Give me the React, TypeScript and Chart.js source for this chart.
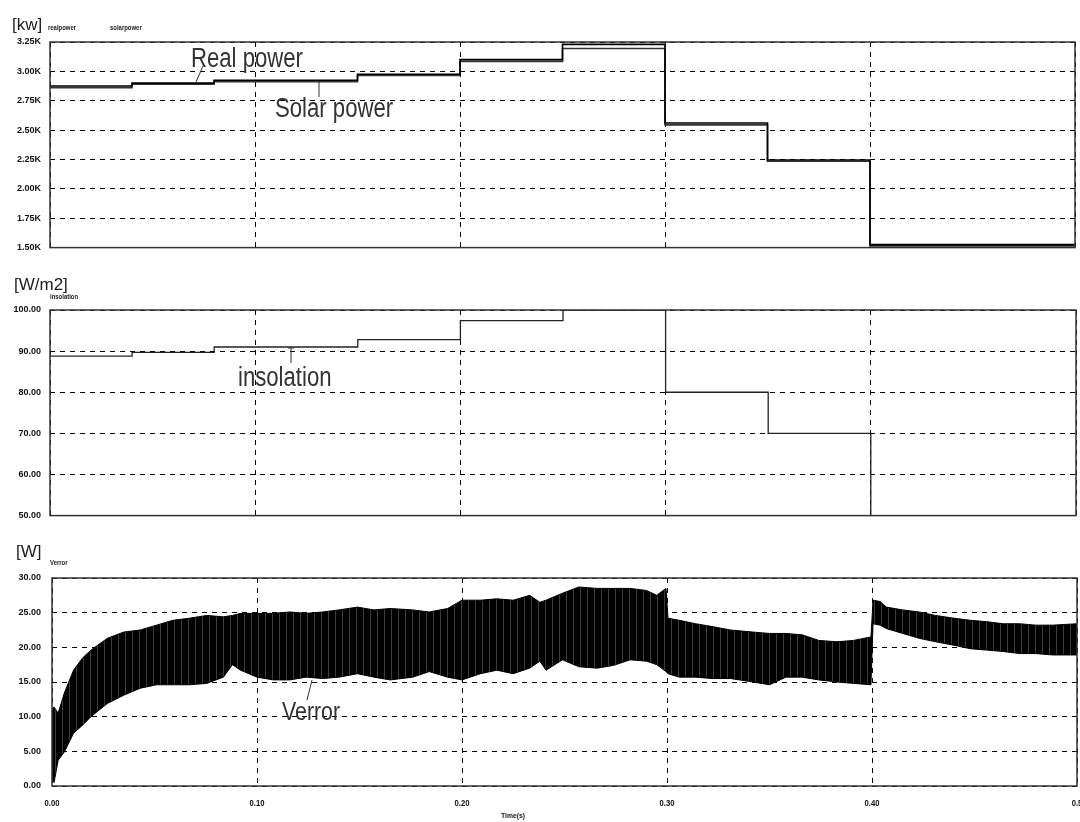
import React, { useEffect, useRef } from 'react';
import { Chart, registerables } from 'chart.js';

Chart.register(...registerables);

// ---------- data ----------
const stepTimes = [0, 0.04, 0.08, 0.15, 0.2, 0.25, 0.3, 0.35, 0.4, 0.5];
const realPowerK = [2.875, 2.9, 2.925, 2.975, 3.1, 3.23, 2.56, 2.245, 1.525];
const solarPowerK = [2.862, 2.89, 2.912, 2.965, 3.085, 3.195, 2.545, 2.235, 1.515];
const insolationVals = [88.8, 89.7, 91.0, 92.8, 97.4, 100, 80, 70, 50];

const verrTime = [
  0, 0.001, 0.003, 0.006, 0.0105, 0.015, 0.019, 0.027, 0.035, 0.043, 0.051, 0.059, 0.067,
  0.0755, 0.0836, 0.088, 0.092, 0.1, 0.108, 0.116, 0.124, 0.132, 0.14, 0.149, 0.157, 0.165,
  0.176, 0.184, 0.193, 0.2, 0.209, 0.217, 0.225, 0.233, 0.238, 0.241, 0.249, 0.257, 0.266,
  0.274, 0.282, 0.29, 0.295, 0.2995, 0.3005, 0.306, 0.314, 0.322, 0.331, 0.342, 0.35, 0.358,
  0.366, 0.374, 0.383, 0.391, 0.3995, 0.4005, 0.404, 0.407, 0.415, 0.423, 0.431, 0.44, 0.448,
  0.456, 0.464, 0.472, 0.48, 0.488, 0.5,
];
const verrUpper = [
  11.0, 11.4, 10.5, 13.4, 16.7, 18.5, 19.6, 21.3, 22.2, 22.5, 23.2, 23.9, 24.2,
  24.6, 24.4, 24.6, 24.9, 24.9, 24.9, 25.1, 24.9, 25.1, 25.4, 25.8, 25.4, 25.6,
  25.4, 25.1, 25.6, 26.8, 26.8, 27.0, 26.8, 27.5, 26.5, 26.8, 27.8, 28.7, 28.5,
  28.5, 28.5, 28.2, 27.5, 28.5, 24.2, 23.9, 23.4, 23.0, 22.5, 22.2, 22.0, 22.0,
  21.8, 21.0, 20.8, 21.0, 21.5, 26.8, 26.6, 25.8, 25.4, 25.1, 24.6, 24.2, 23.9,
  23.7, 23.4, 23.4, 23.2, 23.2, 23.4,
];
const verrLower = [
  1.0, 0.5, 3.7, 4.9, 7.6, 8.8, 10.0, 11.9, 13.1, 14.1, 14.6, 14.6, 14.6,
  14.8, 15.7, 17.5, 16.7, 15.7, 15.3, 15.3, 15.7, 15.5, 15.7, 16.2, 15.7, 15.3,
  15.7, 16.5, 15.7, 15.3, 16.2, 16.7, 16.2, 17.0, 18.0, 16.7, 18.2, 17.2, 17.0,
  17.4, 18.2, 18.0, 17.5, 16.5, 16.2, 15.7, 15.7, 15.5, 15.5, 15.0, 14.6, 15.7,
  15.7, 15.3, 15.0, 14.8, 14.6, 23.4, 23.2, 22.7, 22.0, 21.3, 20.8, 20.3, 19.8,
  19.6, 19.4, 19.1, 19.1, 18.9, 18.9,
];

const timeTicks = [0, 0.1, 0.2, 0.3, 0.4, 0.5];
const timeTickLabels = ['0.00', '0.10', '0.20', '0.30', '0.40', '0.5'];
const powerTickSuffix = 'K';

// ---------- helpers ----------
const W = 1080;
const SANS = '"Liberation Sans", Arial, sans-serif';
const TICK_FONT = { family: '"Liberation Sans Narrow", "Liberation Sans", Arial, sans-serif', size: 9, weight: 'bold' as const };

function stepData(times: number[], vals: number[]) {
  return times.map((t, i) => ({ x: t, y: vals[Math.min(i, vals.length - 1)] }));
}

function text(
  ctx: CanvasRenderingContext2D,
  s: string,
  x: number,
  y: number,
  size: number,
  opts: { sx?: number; weight?: string; color?: string; align?: CanvasTextAlign } = {}
) {
  ctx.save();
  ctx.translate(x, y);
  ctx.scale(opts.sx ?? 1, 1);
  ctx.font = `${opts.weight ?? 'normal'} ${size}px ${SANS}`;
  ctx.fillStyle = opts.color ?? '#222';
  ctx.textAlign = opts.align ?? 'left';
  ctx.textBaseline = 'alphabetic';
  ctx.fillText(s, 0, 0);
  ctx.restore();
}

function line(ctx: CanvasRenderingContext2D, x1: number, y1: number, x2: number, y2: number) {
  ctx.save();
  ctx.strokeStyle = '#333';
  ctx.lineWidth = 1;
  ctx.beginPath();
  ctx.moveTo(x1, y1);
  ctx.lineTo(x2, y2);
  ctx.stroke();
  ctx.restore();
}

function overlayPlugin(id: string, draw: (chart: any) => void) {
  return {
    id,
    afterDraw(chart: any) {
      const { ctx, chartArea: a } = chart;
      ctx.save();
      ctx.strokeStyle = '#333';
      ctx.lineWidth = 1.5;
      ctx.strokeRect(a.left, a.top, a.right - a.left, a.bottom - a.top);
      ctx.restore();
      draw(chart);
    },
  };
}

function baseOptions(cfg: {
  yMin: number;
  yMax: number;
  yStep: number;
  fmt: (v: number) => string;
  padding: { top: number; right: number; bottom: number; left: number };
  yWidth: number;
  tickPad: number;
  xHeight: number;
}) {
  return {
    responsive: false,
    animation: false as const,
    devicePixelRatio: 1,
    layout: { padding: cfg.padding },
    plugins: { legend: { display: false }, tooltip: { enabled: false } },
    elements: { point: { radius: 0 } },
    scales: {
      x: {
        type: 'linear' as const,
        min: 0,
        max: 0.5,
        ticks: { display: false, stepSize: 0.1 },
        grid: { color: '#000', lineWidth: 1, drawTicks: false },
        border: { display: false, dash: [5, 5] },
        afterFit: (s: any) => {
          s.height = cfg.xHeight;
        },
      },
      y: {
        min: cfg.yMin,
        max: cfg.yMax,
        ticks: {
          stepSize: cfg.yStep,
          color: '#111',
          font: TICK_FONT,
          padding: cfg.tickPad,
          callback: (v: any) => cfg.fmt(Number(v)),
        },
        grid: { color: '#000', lineWidth: 1, drawTicks: false },
        border: { display: false, dash: [5, 5] },
        afterFit: (s: any) => {
          s.width = cfg.yWidth;
        },
      },
    },
  };
}

export default function App() {
  const c1 = useRef<HTMLCanvasElement>(null);
  const c2 = useRef<HTMLCanvasElement>(null);
  const c3 = useRef<HTMLCanvasElement>(null);

  useEffect(() => {
    const charts: Chart[] = [];

    // ---- Panel 1: power ----
    charts.push(
      new Chart(c1.current!, {
        type: 'line',
        data: {
          datasets: [
            {
              label: 'realpower',
              data: stepData(stepTimes, realPowerK),
              stepped: 'before',
              borderColor: '#000',
              borderWidth: 1.6,
              fill: false,
            },
            {
              label: 'solarpower',
              data: stepData(stepTimes, solarPowerK),
              stepped: 'before',
              borderColor: '#333',
              borderWidth: 1.6,
              fill: false,
            },
          ],
        },
        options: baseOptions({
          yMin: 1.5,
          yMax: 3.25,
          yStep: 0.25,
          fmt: (v) => v.toFixed(2) + powerTickSuffix,
          padding: { top: 42, right: 5, bottom: 12, left: 0 },
          yWidth: 50,
          tickPad: 9,
          xHeight: 0,
        }) as any,
        plugins: [
          overlayPlugin('p1', (chart) => {
            const ctx = chart.ctx;
            text(ctx, '[kw]', 12, 30, 17);
            text(ctx, 'realpower', 48, 30, 7, { weight: 'bold', sx: 0.85 });
            text(ctx, 'solarpower', 110, 30, 7, { weight: 'bold', sx: 0.85 });
            text(ctx, 'Real power', 191, 67, 27, { sx: 0.82, color: '#333' });
            line(ctx, 203, 66, 196, 82);
            text(ctx, 'Solar power', 275, 117, 27, { sx: 0.82, color: '#333' });
            line(ctx, 319, 82, 319, 97);
          }),
        ],
      })
    );

    // ---- Panel 2: insolation ----
    charts.push(
      new Chart(c2.current!, {
        type: 'line',
        data: {
          datasets: [
            {
              label: 'insolation',
              data: stepData(stepTimes, insolationVals),
              stepped: 'before',
              borderColor: '#222',
              borderWidth: 1.3,
              fill: false,
            },
          ],
        },
        options: baseOptions({
          yMin: 50,
          yMax: 100,
          yStep: 10,
          fmt: (v) => v.toFixed(2),
          padding: { top: 48, right: 4, bottom: 12, left: 0 },
          yWidth: 50,
          tickPad: 9,
          xHeight: 0,
        }) as any,
        plugins: [
          overlayPlugin('p2', (chart) => {
            const ctx = chart.ctx;
            text(ctx, '[W/m2]', 14, 28, 17);
            text(ctx, 'insolation', 50, 37, 7, { weight: 'bold', sx: 0.85 });
            text(ctx, 'insolation', 238, 386 - 262, 27, { sx: 0.82, color: '#333' });
            line(ctx, 291, 348 - 262, 291, 363 - 262);
            line(ctx, 288, 348 - 262, 294, 348 - 262);
          }),
        ],
      })
    );

    // ---- Panel 3: Verror ----
    const pc = document.createElement('canvas');
    pc.width = 7;
    pc.height = 1;
    const pctx = pc.getContext('2d')!;
    pctx.fillStyle = '#000';
    pctx.fillRect(0, 0, 7, 1);
    pctx.fillStyle = '#3c3c3c';
    pctx.fillRect(6, 0, 1, 1);
    const pattern = c3.current!.getContext('2d')!.createPattern(pc, 'repeat');

    charts.push(
      new Chart(c3.current!, {
        type: 'line',
        data: {
          datasets: [
            {
              label: 'Verror upper',
              data: verrTime.map((t, i) => ({ x: t, y: verrUpper[i] })),
              borderColor: '#000',
              borderWidth: 1,
              fill: false,
            },
            {
              label: 'Verror lower',
              data: verrTime.map((t, i) => ({ x: t, y: verrLower[i] })),
              borderColor: '#000',
              borderWidth: 1,
              backgroundColor: pattern as any,
              fill: '-1',
            },
          ],
        },
        options: baseOptions({
          yMin: 0,
          yMax: 30,
          yStep: 5,
          fmt: (v) => v.toFixed(2),
          padding: { top: 48, right: 3, bottom: 0, left: 0 },
          yWidth: 52,
          tickPad: 11,
          xHeight: 36,
        }) as any,
        plugins: [
          overlayPlugin('p3', (chart) => {
            const ctx = chart.ctx;
            const xs = chart.scales.x;
            const a = chart.chartArea;
            text(ctx, '[W]', 16, 27, 17);
            text(ctx, 'Verror', 50, 35, 7, { weight: 'bold', sx: 0.85 });
            timeTicks.forEach((t, i) => {
              text(ctx, timeTickLabels[i], xs.getPixelForValue(t), a.bottom + 20, 9, {
                weight: 'bold',
                sx: 0.85,
                align: 'center',
                color: '#111',
              });
            });
            text(ctx, 'Time(s)', 513, a.bottom + 32, 8, { weight: 'bold', sx: 0.85, align: 'center', color: '#111' });
            text(ctx, 'Verror', 282, 720 - 530, 26, { sx: 0.82, color: '#333' });
            line(ctx, 312, 680 - 530, 307, 700 - 530);
          }),
        ],
      })
    );

    return () => charts.forEach((c) => c.destroy());
  }, []);

  const cs = (top: number, h: number): React.CSSProperties => ({
    position: 'absolute',
    left: 0,
    top,
    width: W,
    height: h,
    display: 'block',
  });

  return (
    <div style={{ position: 'absolute', left: 0, top: 0, width: W, height: 822, background: '#fff', overflow: 'hidden' }}>
      <canvas ref={c1} width={W} height={262} style={cs(0, 262)} />
      <canvas ref={c2} width={W} height={268} style={cs(262, 268)} />
      <canvas ref={c3} width={W} height={292} style={cs(530, 292)} />
    </div>
  );
}
